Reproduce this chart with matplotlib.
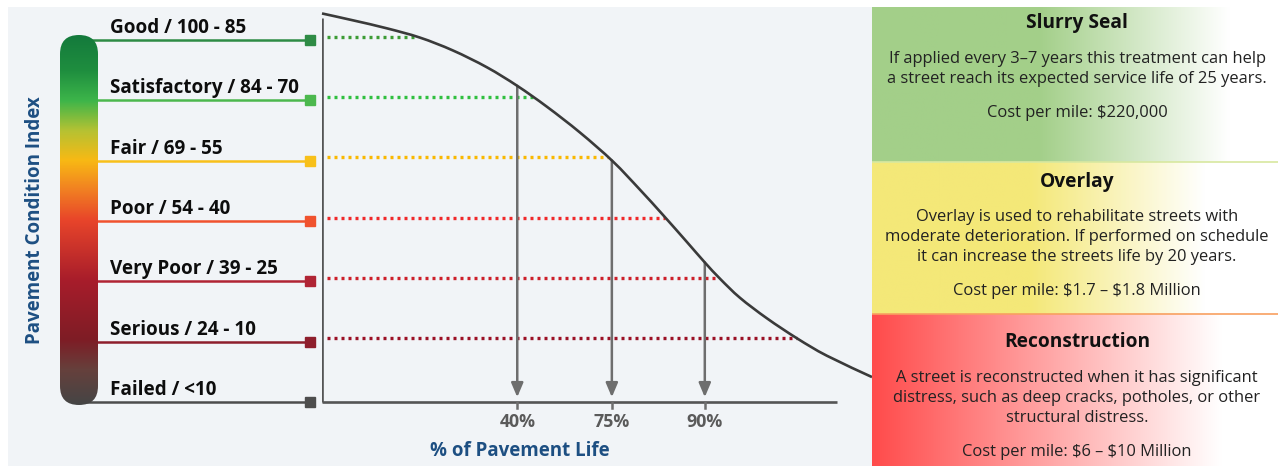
import numpy as np
import matplotlib
matplotlib.use("Agg")
import matplotlib.pyplot as plt
from matplotlib.colors import LinearSegmentedColormap, to_rgb
from matplotlib.patches import Rectangle, FancyBboxPatch, PathPatch
from matplotlib.path import Path

plt.rcParams['font.family'] = ['Open Sans', 'DejaVu Sans']
plt.rcParams['text.parse_math'] = False

# ---- data ----
categories = ["Good", "Satisfactory", "Fair", "Poor", "Very Poor", "Serious", "Failed"]
pci_ranges = ["100 - 85", "84 - 70", "69 - 55", "54 - 40", "39 - 25", "24 - 10", "<10"]
pci_levels = [100, 85, 70, 55, 40, 25, 10]

# deterioration curve: position along pavement life axis (0-100) vs PCI
life_pos = [0, 5.6, 11.8, 17.8, 23.8, 30.0, 35.5, 40.9, 46.9, 52.9,
            57.8, 62.0, 66.4, 69.6, 72.4, 76.0, 80.9, 86.4, 91.8, 100]
curve_pci = [106.6, 104.9, 102.9, 100.6, 97.4, 93.2, 88.6, 83.4, 77.0, 69.8,
             62.8, 56.5, 49.7, 44.7, 40.6, 35.9, 30.8, 25.8, 21.5, 16.2]

tick_pos = [35.5, 52.7, 69.6]
tick_labels = ["40%", "75%", "90%"]

treatments = ["Slurry Seal", "Overlay", "Reconstruction"]
treatment_text = [
    ["If applied every 3\u20137 years this treatment can help",
     "a street reach its expected service life of 25 years."],
    ["Overlay is used to rehabilitate streets with",
     "moderate deterioration. If performed on schedule",
     "it can increase the streets life by 20 years."],
    ["A street is reconstructed when it has significant",
     "distress, such as deep cracks, potholes, or other",
     "structural distress."],
]
treatment_cost = ["Cost per mile: $220,000",
                  "Cost per mile: $1.7 \u2013 $1.8 Million",
                  "Cost per mile: $6 \u2013 $10 Million"]

# ---- styling ----
line_colors = ["#2e8b45", "#4cb84e", "#f8c01a", "#f0522e", "#b02434", "#8e1e2c", "#4d4d4d"]
dot_colors = ["#3c9b35", "#2fbf3f", "#f9b800", "#f0282a", "#cc1f2a", "#9a1025", None]
panel_colors = ["#a3cf89", "#f4e878", "#ff4b4b"]
panel_fade = [(0.41, 0.88), (0.39, 0.82), (0.0, 0.86)]
navy = "#1d4f82"
axis_gray = "#555555"

W, H = 1278, 466
fig = plt.figure(figsize=(W / 100, H / 100), dpi=100, facecolor="white")

def fpos(x0, y0, x1, y1):
    # pixel box (top-left origin) -> figure fraction
    return [x0 / W, 1 - y1 / H, (x1 - x0) / W, (y1 - y0) / H]

fig.patches.append(Rectangle((8 / W, 0), 864 / W, 459 / H, transform=fig.transFigure,
                             facecolor="#f1f4f7", edgecolor="none", zorder=-5))

# y limits so that PCI 100 sits at px 40 and PCI 10 at px 402
px_per_pci = (402 - 40) / 90
ylim = (10 - (466 - 402) / px_per_pci, 100 + (40 - 7) / px_per_pci)

# ---- main chart ----
ax = fig.add_axes(fpos(322, 7, 872, 466))
ax.set_xlim(0, 100)
ax.set_ylim(*ylim)
ax.axis("off")

ax.plot([0, 0], [10, 105.5], color=axis_gray, lw=1.9, solid_capstyle="butt", zorder=3)
ax.plot([0, 93.6], [10, 10], color=axis_gray, lw=1.9, solid_capstyle="butt", zorder=3)

# smooth curve (Catmull-Rom rendered as cubic Bezier)
pts = np.column_stack([life_pos, curve_pci])
verts = [pts[0]]
codes = [Path.MOVETO]
for i in range(len(pts) - 1):
    p0 = pts[i - 1] if i > 0 else pts[i]
    p1, p2 = pts[i], pts[i + 1]
    p3 = pts[i + 2] if i + 2 < len(pts) else pts[i + 1]
    verts += [p1 + (p2 - p0) / 6, p2 - (p3 - p1) / 6, p2]
    codes += [Path.CURVE4] * 3
ax.add_patch(PathPatch(Path(verts, codes), facecolor="none", edgecolor="#3a3a3a",
                       lw=1.9, zorder=4, clip_on=False))

for lvl, col in zip(pci_levels, dot_colors):
    if col is None:
        continue
    x_end = np.interp(lvl + 0.8, curve_pci[::-1], life_pos[::-1])
    ax.plot([0.9, x_end], [lvl + 0.8, lvl + 0.8], color=col, lw=2.4,
            linestyle=(0, (0.9, 1.2)), dash_capstyle="butt", zorder=2)

for xp, lab in zip(tick_pos, tick_labels):
    top = np.interp(xp, life_pos, curve_pci)
    ax.annotate("", xy=(xp, 11.2), xytext=(xp, top),
                arrowprops=dict(arrowstyle="-|>,head_length=0.85,head_width=0.36",
                                color="#6e6e6e", lw=1.8, shrinkA=0, shrinkB=0), zorder=3)
    ax.plot([xp, xp], [10, 8.4], color="#6e6e6e", lw=1.8, zorder=3)
    ax.text(xp, 5.0, lab, ha="center", va="center", fontsize=12.8,
            fontweight="bold", color="#5a5a5a")

ax.text((520 - 322) / 5.5, 10 - (451 - 402) / px_per_pci, "% of Pavement Life",
        ha="center", va="center", fontsize=13.5, fontweight="bold", color=navy)

# ---- left legend ----
axl = fig.add_axes(fpos(0, 7, 322, 466))
axl.set_xlim(0, 322)
axl.set_ylim(*ylim)
axl.axis("off")

for name, rng, lvl, col in zip(categories, pci_ranges, pci_levels, line_colors):
    axl.plot([78, 310], [lvl, lvl], color=col, lw=1.8, zorder=1)
    axl.plot([310], [lvl], marker="s", markersize=6.8, color=col, zorder=2)
    axl.text(110, lvl + 1.7, f"{name} / {rng}", ha="left", va="baseline",
             fontsize=13.6, fontweight="bold", color="#0d0d0d")

axl.text(35, 10 + (402 - 220) / px_per_pci, "Pavement Condition Index", rotation=90,
         ha="center", va="center", fontsize=13.5, fontweight="bold", color=navy)

# gradient bar
axb = fig.add_axes(fpos(60, 35, 98, 405))
axb.set_xlim(0, 38)
axb.set_ylim(0, 370)
axb.axis("off")
bar_cmap = LinearSegmentedColormap.from_list("pci", [
    (0.0, "#147a3c"), (0.095, "#1f8e3f"), (0.176, "#3db54a"), (0.257, "#b5c233"),
    (0.338, "#f8b914"), (0.419, "#f17f22"), (0.5, "#e8452a"), (0.662, "#a81d2b"),
    (0.824, "#7e1c25"), (0.905, "#66403c"), (1.0, "#454545")])
im = axb.imshow(np.linspace(0, 1, 256)[:, None], cmap=bar_cmap, aspect="auto",
                extent=(0, 38, 0, 370), origin="upper", zorder=3)
clip = FancyBboxPatch((0, 0), 38, 370, boxstyle="round,pad=0,rounding_size=19",
                      facecolor="none", edgecolor="none", transform=axb.transData)
axb.add_patch(clip)
im.set_clip_path(clip)

# ---- treatment panels ----
axr = fig.add_axes(fpos(872, 7, 1278, 466))
axr.set_xlim(0, 1)
axr.set_ylim(466, 7)
axr.axis("off")

bounds = [(7, 162), (162, 314), (314, 466)]
t = np.linspace(0, 1, 400)
for (y0, y1), col, (f0, f1) in zip(bounds, panel_colors, panel_fade):
    w = np.clip((t - f0) / (f1 - f0), 0, 1)
    rgb = np.outer(1 - w, to_rgb(col)) + np.outer(w, [1, 1, 1])
    axr.imshow(rgb[None, :, :], aspect="auto", extent=(0, 1, y1, y0), zorder=1)
axr.plot([0, 1], [162, 162], color="#d8e8a0", lw=1.2, zorder=2)
axr.plot([0, 1], [314, 314], color="#f8a060", lw=1.2, zorder=2)

title_y = [23, 182, 342]
body_y = [[59, 79], [217, 237, 257], [378, 398, 418]]
cost_y = [113, 291, 452]
for name, lines, cost, ty, by, cy in zip(treatments, treatment_text, treatment_cost,
                                         title_y, body_y, cost_y):
    axr.text(0.505, ty, name, ha="center", va="center", fontsize=13.8,
             fontweight="bold", color="#111111", zorder=3)
    for ln, yy in zip(lines, by):
        axr.text(0.505, yy, ln, ha="center", va="center", fontsize=11.9,
                 color="#222222", zorder=3)
    axr.text(0.505, cy, cost, ha="center", va="center", fontsize=11.9,
             color="#222222", zorder=3)

fig.savefig("out.png", dpi=100, facecolor="white")
